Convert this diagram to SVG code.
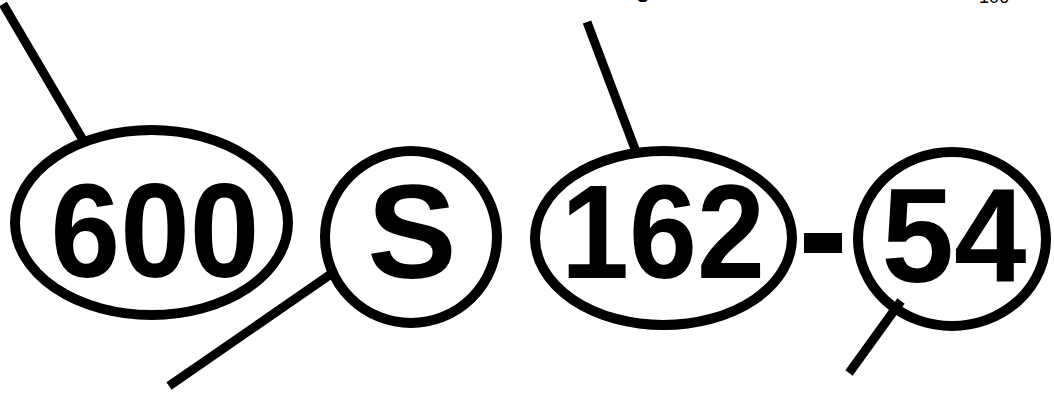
<svg xmlns="http://www.w3.org/2000/svg" width="1054" height="393" viewBox="0 0 1054 393">
<style>
.oval{fill:none;stroke:#000;stroke-width:10}
.lead{stroke:#000;stroke-width:9;stroke-linecap:butt;fill:none}
.big{font-family:"Liberation Sans",Arial,sans-serif;font-weight:bold;font-size:134px;fill:#000;text-anchor:middle}
.hdr{font-family:"Liberation Sans",Arial,sans-serif;fill:#000}
</style>
<rect width="1054" height="393" fill="#fff"/>
<text class="hdr" x="643" y="-3" font-size="26" text-anchor="middle">g</text>
<text class="hdr" x="994" y="3" font-size="18" text-anchor="middle">106</text>
<g id="connectors">
<line class="lead" x1="3" y1="4" x2="83" y2="140"/>
<line class="lead" x1="587" y1="22" x2="635" y2="149"/>
<line class="lead" x1="169" y1="386" x2="331" y2="274"/>
<line class="lead" x1="849" y1="373" x2="901" y2="301"/>
</g>
<g id="n600">
<ellipse class="oval" cx="151.5" cy="222.5" rx="136.5" ry="92.5"/>
<text class="big" x="155" y="277" textLength="209" lengthAdjust="spacingAndGlyphs">600</text>
</g>
<g id="nS">
<circle class="oval" cx="411" cy="237" r="86"/>
<text class="big" x="412" y="278">S</text>
</g>
<g id="n162">
<ellipse class="oval" cx="663.5" cy="238" rx="128.5" ry="87"/>
<text class="big" x="663" y="278" textLength="204" lengthAdjust="spacingAndGlyphs">162</text>
</g>
<g id="dash">
<text class="big" x="823" y="278" stroke="#000" stroke-width="4">-</text>
</g>
<g id="n54">
<ellipse class="oval" cx="952" cy="239" rx="94" ry="87"/>
<text class="big" x="954" y="282" textLength="145" lengthAdjust="spacingAndGlyphs">54</text>
</g>
</svg>
